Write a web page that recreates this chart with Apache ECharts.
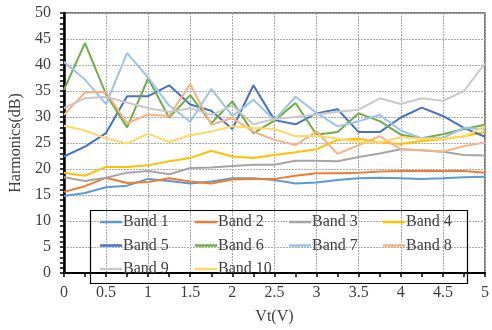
<!DOCTYPE html>
<html>
<head>
<meta charset="utf-8">
<script src="https://cdn.jsdelivr.net/npm/echarts@6/dist/echarts.min.js"></script>
<style>html,body{margin:0;padding:0;background:#fff;}#c{width:492px;height:330px;}</style>
</head>
<body>
<div id="c"></div>
<script>
const vt = [0, 0.25, 0.5, 0.75, 1, 1.25, 1.5, 1.75, 2, 2.25, 2.5, 2.75, 3, 3.25, 3.5, 3.75, 4, 4.25, 4.5, 4.75, 5];
const band1 = [14.8,15.4,16.5,16.8,18.1,17.7,17.2,17.6,18.2,18.2,17.9,17.2,17.4,17.9,18.2,18.3,18.2,18.1,18.2,18.4,18.5];
const band2 = [15.6,16.7,18.3,17.3,17.5,18.2,17.6,17.2,18.0,18.1,18.1,18.7,19.2,19.2,19.3,19.5,19.6,19.6,19.6,19.6,19.3];
const band3 = [18.4,17.7,18.3,19.3,19.6,19.0,20.2,20.3,20.6,20.8,20.8,21.6,21.6,21.5,22.3,23.0,23.8,23.6,23.3,22.7,22.6];
const band4 = [19.3,18.7,20.4,20.4,20.7,21.5,22.1,23.5,22.4,22.1,22.7,23.2,23.8,25.6,25.8,25.1,24.8,25.4,25.7,26.3,27.1];
const band5 = [22.4,24.3,26.9,34.0,34.0,36.1,32.4,31.2,27.7,36.1,29.4,28.6,30.7,31.5,27.1,27.1,29.9,31.8,30.2,27.9,26.2];
const band6 = [35.2,44.2,34.4,28.0,37.4,29.9,34.2,28.8,33.0,26.9,29.3,32.7,26.6,27.1,30.7,29.2,26.6,25.9,26.7,27.7,28.5];
const band7 = [40.6,37.2,32.5,42.3,37.6,32.2,29.1,35.4,30.2,33.3,29.4,33.9,30.8,28.2,29.2,30.4,27.4,25.9,26.0,27.9,27.7];
const band8 = [30.4,34.7,34.8,28.8,30.5,30.2,36.3,28.5,29.8,27.2,25.6,24.6,27.2,22.9,24.6,26.3,23.8,23.6,23.3,24.4,25.1];
const band9 = [31.7,33.6,33.9,32.8,31.7,31.0,31.7,30.4,32.2,28.6,29.6,30.0,30.5,31.0,31.4,33.6,32.5,33.6,33.1,35.0,40.3];
const band10 = [28.3,27.4,25.9,24.9,26.8,25.2,26.5,27.2,28.2,27.9,27.7,26.3,26.4,25.8,25.2,25.1,26.1,25.8,25.8,26.2,28.2];
const names = ['Band 1','Band 2','Band 3','Band 4','Band 5','Band 6','Band 7','Band 8','Band 9','Band 10'];
const values = [band1,band2,band3,band4,band5,band6,band7,band8,band9,band10];
const colors = ['#5B9BD5','#ED7D31','#A5A5A5','#FFC000','#4472C4','#70AD47','#9DC3E6','#F4B183','#C9C9C9','#FFD966'];
const xTitle = 'Vt(V)';
const yTitle = 'Harmonics(dB)';

const FONT = '"Liberation Serif", "DejaVu Serif", serif';
const TXT = '#404040';
const FS = 16;

const chart = echarts.init(document.getElementById('c'), null, {renderer: 'canvas'});

const series = names.map((n, i) => ({
  name: n,
  type: 'line',
  data: vt.map((x, j) => [x, values[i][j]]),
  symbol: 'none',
  lineStyle: {width: 2, color: colors[i]},
  itemStyle: {color: colors[i]},
  animation: false
}));

const legendCols = [
  ['Band 1','Band 5','Band 9'],
  ['Band 2','Band 6','Band 10'],
  ['Band 3','Band 7'],
  ['Band 4','Band 8']
];
const colLeft = [100, 195, 289, 383];
const legends = legendCols.map((d, k) => ({
  data: d,
  orient: 'vertical',
  left: colLeft[k],
  top: 214,
  padding: 0,
  itemGap: 7.5,
  itemWidth: 22,
  itemHeight: 2.5,
  icon: 'rect',
  selectedMode: false,
  textStyle: {fontFamily: FONT, fontSize: FS, color: TXT, padding: [0,0,0,-4]}
}));

chart.setOption({
  animation: false,
  backgroundColor: '#fff',
  grid: {left: 57, right: 2, top: 13, bottom: 49, show: true, borderColor: '#555', borderWidth: 1.5},
  xAxis: {
    type: 'value', min: 0, max: 5, interval: 0.5,
    name: xTitle, nameLocation: 'middle', nameGap: 36,
    nameTextStyle: {fontFamily: FONT, fontSize: FS, color: TXT},
    axisLine: {lineStyle: {color: '#000', width: 2}},
    axisTick: {show: true, length: 4, lineStyle: {color: '#000', width: 1.5}},
    minorTick: {show: true, splitNumber: 2, length: 4, lineStyle: {color: '#000', width: 1.5}},
    axisLabel: {fontFamily: FONT, fontSize: FS, color: TXT, margin: 12, formatter: v => String(v)},
    splitLine: {show: true, lineStyle: {color: '#aaa', type: [2, 1], width: 1}}
  },
  yAxis: {
    type: 'value', min: 0, max: 50, interval: 5,
    name: yTitle, nameLocation: 'middle', nameGap: 38, nameRotate: 90,
    nameTextStyle: {fontFamily: FONT, fontSize: FS, color: TXT},
    axisLine: {show: true, lineStyle: {color: '#000', width: 2.5}},
    axisTick: {show: true, length: 4, lineStyle: {color: '#000', width: 1.5}},
    minorTick: {show: true, splitNumber: 5, length: 4, lineStyle: {color: '#000', width: 1.5}},
    axisLabel: {fontFamily: FONT, fontSize: FS, color: TXT, margin: 13},
    splitLine: {show: true, lineStyle: {color: '#aaa', type: [2, 1], width: 1}}
  },
  legend: legends,
  graphic: [{
    type: 'rect', left: 88, top: 208, z: 5,
    shape: {width: 377, height: 73},
    style: {fill: 'none', stroke: '#000', lineWidth: 1.2}
  }],
  series: series
});
</script>
</body>
</html>
